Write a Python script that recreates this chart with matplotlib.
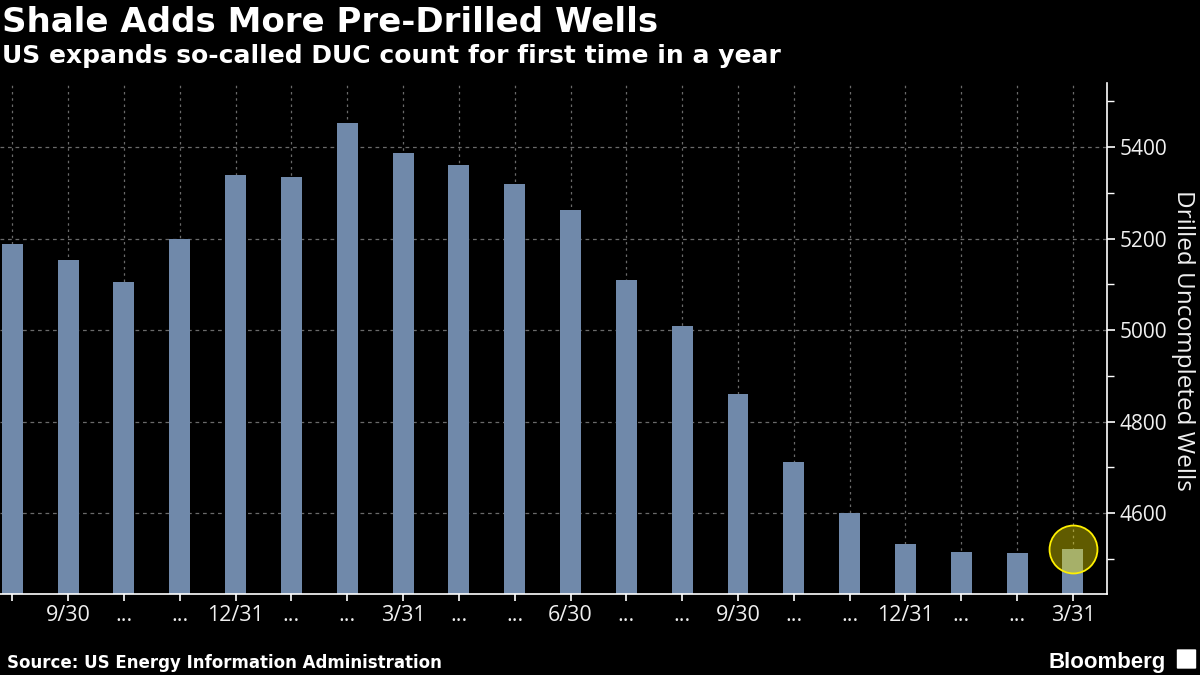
import matplotlib
matplotlib.use("Agg")
import matplotlib.pyplot as plt
from matplotlib.patches import FancyBboxPatch
import numpy as np

# ---- data ----
dates = ["8/31", "9/30", "10/31", "11/30", "12/31", "1/31", "2/28", "3/31", "4/30", "5/31",
         "6/30", "7/31", "8/31", "9/30", "10/31", "11/30", "12/31", "1/31", "2/28", "3/31"]
duc_counts = [5189, 5153, 5105, 5198, 5339, 5334, 5453, 5388, 5361, 5320,
              5263, 5110, 5009, 4861, 4712, 4600, 4533, 4515, 4513, 4522]
tick_labels = ["", "9/30", "...", "...", "12/31", "...", "...", "3/31", "...", "...",
               "6/30", "...", "...", "9/30", "...", "...", "12/31", "...", "...", "3/31"]
highlight_index = 19

title = "Shale Adds More Pre-Drilled Wells"
subtitle = "US expands so-called DUC count for first time in a year"
source = "Source: US Energy Information Administration"
ylabel = "Drilled Uncompleted Wells"

BAR = "#7089aa"
GRID = "#6a6a6a"

fig = plt.figure(figsize=(12, 6.75), dpi=100, facecolor="black")
ax = fig.add_axes([0.0, 1 - 594 / 675, 1107 / 1200, (594 - 83) / 675])
ax.set_facecolor("black")

x = np.arange(len(duc_counts))
ax.bar(x, duc_counts, width=0.376, color=BAR, zorder=2)

ax.set_xlim(-0.22, 19.61)
ax.set_ylim(4423, 5540)

ax.set_xticks(x)
ax.set_xticklabels(tick_labels)
ax.set_yticks([4600, 4800, 5000, 5200, 5400])
ax.set_yticks([4500, 4700, 4900, 5100, 5300, 5500], minor=True)

ax.yaxis.tick_right()
for s in ["top", "left"]:
    ax.spines[s].set_visible(False)
for s in ["right", "bottom"]:
    ax.spines[s].set_color("white")
    ax.spines[s].set_linewidth(1.2)

tick_font = "Open Sans"
ax.tick_params(axis="y", which="major", colors="white", length=6, width=1.2,
               labelsize=15, pad=3)
ax.tick_params(axis="y", which="minor", colors="white", length=5, width=1.0)
ax.tick_params(axis="x", colors="white", length=5, width=1.2, labelsize=15.5, pad=3)
for lab in ax.get_xticklabels() + ax.get_yticklabels():
    lab.set_fontfamily(tick_font)
    lab.set_color("#f0f0f0")

fig.text(1183 / 1200, 1 - 340 / 675, ylabel, rotation=270, color="#f0f0f0", fontsize=17.5,
         fontfamily=tick_font, ha="center", va="center")

ax.grid(axis="y", which="major", color=GRID, linestyle=(0, (3, 3)), linewidth=0.9, zorder=0)
ax.grid(axis="x", color=GRID, linestyle=(0, (2, 3)), linewidth=0.9, zorder=0)
ax.set_axisbelow(True)

# highlight circle
ax.plot([x[highlight_index]], [duc_counts[highlight_index]], marker="o", markersize=34.5,
        markerfacecolor=(1.0, 0.94, 0.0, 0.38), markeredgecolor=(1.0, 0.94, 0.0, 1.0),
        markeredgewidth=1.3, linestyle="none", zorder=5, clip_on=False)

# titles
fig.text(0.002, 1 - 6 / 675, title, color="white", fontsize=24.5, fontweight="bold",
         fontfamily="DejaVu Sans", va="top", ha="left")
fig.text(0.002, 1 - 44 / 675, subtitle, color="white", fontsize=18, fontweight="bold",
         fontfamily="DejaVu Sans", va="top", ha="left")
fig.text(7 / 1200, 1 - 668 / 675, source, color="white", fontsize=12, fontweight="bold",
         fontfamily="DejaVu Sans", va="baseline", ha="left")
fig.text(1166 / 1200, 1 - 668 / 675, "Bloomberg", color="white", fontsize=16,
         fontweight="bold", fontfamily="Liberation Sans", va="baseline", ha="right")
fig.patches.append(FancyBboxPatch((1178 / 1200, 1 - 668 / 675), 17 / 1200, 18 / 675,
                                  boxstyle="round,pad=0.001", transform=fig.transFigure,
                                  facecolor="white", edgecolor="none"))

fig.savefig("out.png", dpi=100, facecolor="black")
